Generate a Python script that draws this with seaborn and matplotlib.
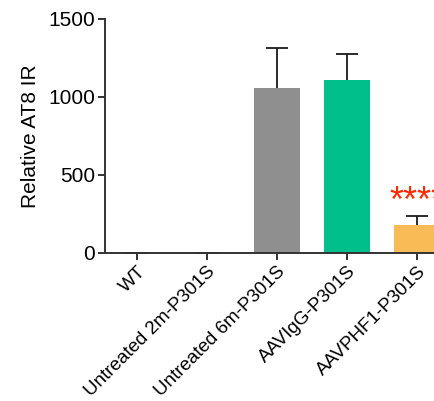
import matplotlib
matplotlib.use("Agg")
import matplotlib.pyplot as plt
import seaborn as sns
import pandas as pd

categories = ["WT", "Untreated 2m-P301S", "Untreated 6m-P301S", "AAVIgG-P301S", "AAVPHF1-P301S"]
means = [0, 0, 1056, 1107, 178]
errors = [0, 0, 256, 171, 62]
colors = ["#8f8f8f", "#8f8f8f", "#8f8f8f", "#00bf8a", "#f9bb55"]
yticks = [0, 500, 1000, 1500]
sig_label = "****"

sns.set_theme(style="ticks")
plt.rcParams["font.family"] = ["Liberation Sans", "DejaVu Sans"]

fig = plt.figure(figsize=(4.34, 4.01), dpi=100)
W, H = 434, 401
ax = fig.add_axes([105 / W, 1 - 253 / H, (449 - 105) / W, (253 - 19) / H])

df = pd.DataFrame({"group": categories, "value": means})
sns.barplot(data=df, x="group", y="value", hue="group", palette=colors,
            legend=False, width=0.67, ax=ax, saturation=1, errorbar=None,
            linewidth=0)
eb = ax.errorbar(range(len(categories)), means, yerr=[[0] * len(errors), errors],
                 fmt="none", ecolor="#1a1a1a", elinewidth=1.3, capsize=8, capthick=1.3)
# keep only upper caps
caplines = eb[1]
if len(caplines) == 2:
    caplines[0].set_visible(False)

ax.set_ylim(0, 1500)
ax.set_xlim(-0.457, 4.457)
ax.set_yticks(yticks)
ax.set_yticklabels([str(t) for t in yticks], fontsize=15, color="black")
ax.set_xticks(range(len(categories)))
ax.set_xticklabels(categories, rotation=45, ha="right", va="top",
                   rotation_mode="anchor", fontsize=13.5, color="black")
ax.set_xlabel("")
ax.set_ylabel("Relative AT8 IR", fontsize=15, color="black", labelpad=6)

for s in ["top", "right"]:
    ax.spines[s].set_visible(False)
for s in ["left", "bottom"]:
    ax.spines[s].set_linewidth(1.4)
    ax.spines[s].set_color("#333333")
ax.tick_params(axis="both", length=5, width=1.4, color="#333333", pad=2)

ax.text(4, 325, sig_label, color="#ff2a00",
        ha="center", va="center", fontsize=26, clip_on=False)

fig.savefig("out.png", dpi=100)
